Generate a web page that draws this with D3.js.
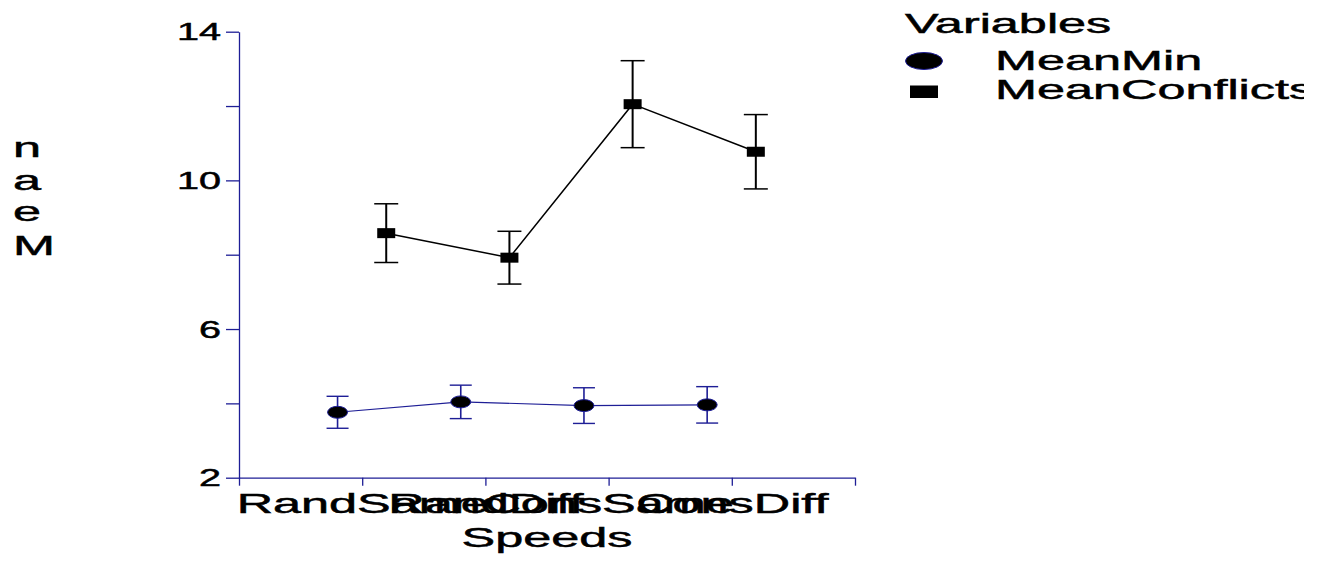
<!DOCTYPE html>
<html>
<head>
<meta charset="utf-8">
<script src="https://cdn.jsdelivr.net/npm/d3@7"></script>
<style>
  html, body { margin: 0; padding: 0; background: #fff; }
  svg { display: block; }
  text { font-family: "Liberation Sans", Arial, sans-serif; fill: #000; stroke: #000; stroke-width: 0.5px; }
</style>
</head>
<body>
<svg id="chart" width="1337" height="561"></svg>
<script>
// Data
const categories = ["RandSame", "RandDiff", "ConsSame", "ConsDiff"];
const meanMin = [3.76, 4.04, 3.94, 3.96];
const meanMinErr = [0.43, 0.45, 0.48, 0.49];
const meanConflicts = [8.58, 7.92, 12.05, 10.77];
const meanConflictsErr = [0.79, 0.71, 1.17, 1.0];
const seriesNames = ["MeanMin", "MeanConflicts"];
const yTicks = [2, 4, 6, 8, 10, 12, 14];
const yTickLabels = [2, 6, 10, 14];
const xTitle = "Speeds";
const yTitle = "Mean";
const legendTitle = "Variables";

const navy = "#1e1e96";
const svg = d3.select("#chart");

const x = d3.scaleLinear().domain([0, categories.length + 1]).range([239, 855]);
const y = d3.scaleLinear().domain([2, 14]).range([477.7, 31.7]);

// Y axis
const yAxis = svg.append("g")
  .attr("transform", `translate(${x(0)},0)`)
  .call(d3.axisLeft(y).tickValues(yTicks).tickSize(13).tickSizeOuter(0)
    .tickFormat(d => yTickLabels.includes(d) ? d : ""));
yAxis.select(".domain").attr("stroke", navy).attr("stroke-width", 1.3);
yAxis.selectAll(".tick line").attr("stroke", navy).attr("stroke-width", 1.3);
yAxis.selectAll(".tick text")
  .attr("x", null).attr("dy", null)
  .attr("font-size", 24).attr("fill", "#000")
  .attr("text-anchor", "end")
  .attr("transform", "translate(-18,8) scale(1.65,1)");

// X axis
const xAxis = svg.append("g")
  .attr("transform", `translate(0,${y(2)})`)
  .call(d3.axisBottom(x).tickValues(d3.range(0, categories.length + 2)).tickSize(8).tickSizeOuter(0)
    .tickFormat(d => (d >= 1 && d <= categories.length) ? categories[d - 1] : ""));
xAxis.select(".domain").attr("stroke", navy).attr("stroke-width", 1.3);
xAxis.selectAll(".tick line").attr("stroke", navy).attr("stroke-width", 1.3);
xAxis.selectAll(".tick text")
  .attr("y", null).attr("dy", null)
  .attr("font-size", 28).attr("fill", "#000")
  .attr("text-anchor", "middle")
  .attr("transform", "translate(0,35) scale(1.8,1)");

// Axis titles
svg.append("text")
  .attr("font-size", 28).attr("text-anchor", "middle")
  .attr("transform", `translate(${(x(0) + x(categories.length + 1)) / 2},547) scale(1.8,1)`)
  .text(xTitle);

const yLetters = yTitle.split("").reverse();
const yBaselines = [157, 190, 221, 255];
svg.append("g").selectAll("text")
  .data(yLetters)
  .join("text")
  .attr("font-size", 28)
  .attr("transform", (d, i) => `translate(13,${yBaselines[i]}) scale(1.8,1)`)
  .text(d => d);

// Series
const offMin = -0.2, offConf = 0.195;
const minPts = meanMin.map((v, i) => ({ cx: x(i + 1 + offMin), v, e: meanMinErr[i] }));
const confPts = meanConflicts.map((v, i) => ({ cx: x(i + 1 + offConf), v, e: meanConflictsErr[i] }));

const line = d3.line().x(d => d.cx).y(d => y(d.v));

// MeanMin
const gMin = svg.append("g");
gMin.append("path").datum(minPts).attr("d", line)
  .attr("fill", "none").attr("stroke", navy).attr("stroke-width", 1.1);
const ebMin = gMin.selectAll("g.eb").data(minPts).join("g").attr("class", "eb");
ebMin.append("line").attr("x1", d => d.cx).attr("x2", d => d.cx)
  .attr("y1", d => y(d.v - d.e)).attr("y2", d => y(d.v + d.e))
  .attr("stroke", navy).attr("stroke-width", 1.6);
ebMin.append("line").attr("x1", d => d.cx - 11).attr("x2", d => d.cx + 11)
  .attr("y1", d => y(d.v + d.e)).attr("y2", d => y(d.v + d.e))
  .attr("stroke", navy).attr("stroke-width", 1.4);
ebMin.append("line").attr("x1", d => d.cx - 11).attr("x2", d => d.cx + 11)
  .attr("y1", d => y(d.v - d.e)).attr("y2", d => y(d.v - d.e))
  .attr("stroke", navy).attr("stroke-width", 1.4);
gMin.selectAll("ellipse").data(minPts).join("ellipse")
  .attr("cx", d => d.cx).attr("cy", d => y(d.v))
  .attr("rx", 10).attr("ry", 6)
  .attr("fill", "#000").attr("stroke", navy).attr("stroke-width", 1);

// MeanConflicts
const gConf = svg.append("g");
gConf.append("path").datum(confPts).attr("d", line)
  .attr("fill", "none").attr("stroke", "#000").attr("stroke-width", 1.5);
const ebConf = gConf.selectAll("g.eb").data(confPts).join("g").attr("class", "eb");
ebConf.append("line").attr("x1", d => d.cx).attr("x2", d => d.cx)
  .attr("y1", d => y(d.v - d.e)).attr("y2", d => y(d.v + d.e))
  .attr("stroke", "#000").attr("stroke-width", 2);
ebConf.append("line").attr("x1", d => d.cx - 12).attr("x2", d => d.cx + 12)
  .attr("y1", d => y(d.v + d.e)).attr("y2", d => y(d.v + d.e))
  .attr("stroke", "#000").attr("stroke-width", 1.5);
ebConf.append("line").attr("x1", d => d.cx - 12).attr("x2", d => d.cx + 12)
  .attr("y1", d => y(d.v - d.e)).attr("y2", d => y(d.v - d.e))
  .attr("stroke", "#000").attr("stroke-width", 1.5);
gConf.selectAll("rect").data(confPts).join("rect")
  .attr("x", d => d.cx - 9).attr("y", d => y(d.v) - 5)
  .attr("width", 18).attr("height", 10)
  .attr("fill", "#000");

// Legend
svg.append("clipPath").attr("id", "legclip")
  .append("rect").attr("x", 0).attr("y", 0).attr("width", 1304).attr("height", 561);
const leg = svg.append("g").attr("clip-path", "url(#legclip)");
leg.append("text").attr("font-size", 28)
  .attr("transform", "translate(905,32.5) scale(1.8,1)").text(legendTitle);
leg.append("ellipse").attr("cx", 924).attr("cy", 61).attr("rx", 18.5).attr("ry", 8.5)
  .attr("fill", "#000").attr("stroke", navy).attr("stroke-width", 1);
leg.append("rect").attr("x", 910).attr("y", 85.5).attr("width", 28).attr("height", 12.5)
  .attr("fill", "#000");
leg.selectAll("text.item").data(seriesNames).join("text").attr("class", "item")
  .attr("font-size", 28)
  .attr("transform", (d, i) => `translate(995,${70 + i * 28.5}) scale(1.8,1)`)
  .text(d => d);
</script>
</body>
</html>
